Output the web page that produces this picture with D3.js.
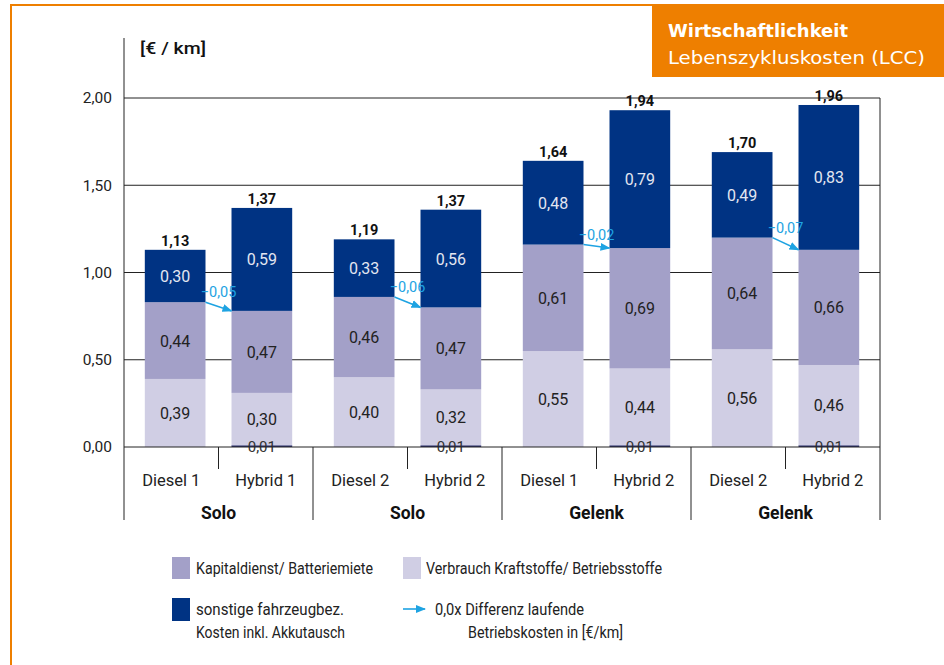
<!DOCTYPE html>
<html><head><meta charset="utf-8">
<script src="https://cdn.jsdelivr.net/npm/d3@7"></script>
<style>
html,body{margin:0;padding:0;background:#fff;}
svg{display:block;font-family:Roboto,"Open Sans",sans-serif;}
</style></head>
<body>
<svg id="c" width="944" height="665"></svg>
<script>
// ---- data ----
const barLabels = ["Diesel 1","Hybrid 1","Diesel 2","Hybrid 2","Diesel 1","Hybrid 2","Diesel 2","Hybrid 2"];
const groupLabels = ["Solo","Solo","Gelenk","Gelenk"];
const akku      = [0,0.01,0,0.01,0,0.01,0,0.01];
const verbrauch = [0.39,0.30,0.40,0.32,0.55,0.44,0.56,0.46];
const kapital   = [0.44,0.47,0.46,0.47,0.61,0.69,0.64,0.66];
const sonstige  = [0.30,0.59,0.33,0.56,0.48,0.79,0.49,0.83];
const totals    = [1.13,1.37,1.19,1.37,1.64,1.94,1.70,1.96];
const diffs     = [-0.05,-0.06,-0.02,-0.07];
const yTicks    = [0,0.5,1,1.5,2];

const fmt = v => d3.format(".2f")(v).replace(".", ",");
const C = {orange:"#ee7f00", navy:"#003383", kap:"#a3a0c8", verb:"#d0cee4", akku:"#2b2e6e", arrow:"#1ea3e2"};

const svg = d3.select("#c");
const fit = (sel,w) => sel.attr("textLength",w).attr("lengthAdjust","spacingAndGlyphs");

// frame
svg.append("line").attr("x1",11).attr("x2",652).attr("y1",5).attr("y2",5).attr("stroke",C.orange).attr("stroke-width",2);
svg.append("line").attr("x1",11).attr("x2",11).attr("y1",4).attr("y2",665).attr("stroke",C.orange).attr("stroke-width",2);
svg.append("rect").attr("x",652).attr("y",4).attr("width",292).attr("height",73).attr("fill",C.orange);
fit(svg.append("text").attr("x",668).attr("y",37).attr("fill","#fff").attr("font-family","'DejaVu Sans',sans-serif")
  .attr("font-size",17.5).attr("font-weight",700).text("Wirtschaftlichkeit"),180);
fit(svg.append("text").attr("x",668).attr("y",64).attr("fill","#fff").attr("font-family","'DejaVu Sans',sans-serif")
  .attr("font-size",18).text("Lebenszykluskosten (LCC)"),257);

// scales
const left = 124, right = 880, y0px = 447, y2px = 98;
const y = d3.scaleLinear().domain([0,2]).range([y0px,y2px]);
const gIdx = d3.range(groupLabels.length);
const x0 = d3.scaleBand().domain(gIdx).range([left,right]).padding(0);
const x1 = d3.scaleBand().domain([0,1]).range([0,x0.bandwidth()]).paddingInner(0.3).paddingOuter(0.24);
const bx = i => x0(Math.floor(i/2)) + x1(i%2);
const bw = x1.bandwidth();

// gridlines
svg.append("g").selectAll("line").data(yTicks.filter(t=>t>0)).join("line")
  .attr("x1",left).attr("x2",right).attr("y1",d=>y(d)).attr("y2",d=>y(d))
  .attr("stroke","#222").attr("stroke-width",1);

// y axis
const yAxis = d3.axisLeft(y).tickValues(yTicks).tickSize(0).tickPadding(12).tickFormat(fmt);
const ya = svg.append("g").attr("transform",`translate(${left},0)`).call(yAxis);
ya.select(".domain").remove();
ya.selectAll("text").attr("font-size",15.5).attr("fill","#222").attr("font-family","Roboto,sans-serif");
svg.append("line").attr("x1",left).attr("x2",left).attr("y1",38).attr("y2",520).attr("stroke","#222");
svg.append("line").attr("x1",right).attr("x2",right).attr("y1",y(2)).attr("y2",520).attr("stroke","#222");
fit(svg.append("text").attr("x",140).attr("y",54).attr("font-size",17).attr("font-weight",500).attr("fill","#111").text("[€ / km]"),66);

// stacked bars
const series = [
  {vals:akku, color:C.akku, txt:null},
  {vals:verbrauch, color:C.verb, txt:"#222"},
  {vals:kapital, color:C.kap, txt:"#222"},
  {vals:sonstige, color:C.navy, txt:"#e3e6f1"}
];
const bars = svg.append("g");
barLabels.forEach((_,i)=>{
  let base = 0;
  series.forEach(s=>{
    const v = s.vals[i];
    if (v>0){
      bars.append("rect").attr("x",bx(i)).attr("width",bw)
        .attr("y",y(base+v)).attr("height",y(base)-y(base+v)).attr("fill",s.color);
      if (s.txt) bars.append("text").attr("x",bx(i)+bw/2).attr("y",y(base+v/2)+6)
        .attr("text-anchor","middle").attr("font-size",16).attr("fill",s.txt).text(fmt(v));
    }
    base += v;
  });
  if (akku[i]>0) bars.append("text").attr("x",bx(i)+bw/2).attr("y",451.5).attr("text-anchor","middle")
      .attr("font-size",15).attr("fill","#333").text(fmt(akku[i]));
  bars.append("text").attr("x",bx(i)+bw/2).attr("y",y(base)-4).attr("text-anchor","middle")
    .attr("font-size",14.5).attr("font-weight",700).attr("fill","#111").text(fmt(totals[i]));
});

// baseline
svg.append("line").attr("x1",left).attr("x2",right).attr("y1",y0px).attr("y2",y0px).attr("stroke","#222");

// arrows
const defs = svg.append("defs");
defs.append("marker").attr("id","ah").attr("viewBox","0 0 10 10").attr("refX",9).attr("refY",5)
  .attr("markerWidth",10).attr("markerHeight",10).attr("markerUnits","userSpaceOnUse").attr("orient","auto")
  .append("path").attr("d","M0,1 L10,5 L0,9 Z").attr("fill",C.arrow);
diffs.forEach((d,g)=>{
  const di = g*2, hi = g*2+1;
  const dTop = akku[di]+verbrauch[di]+kapital[di];
  const hTop = akku[hi]+verbrauch[hi]+kapital[hi];
  const xs = bx(di)+bw, xe = bx(hi);
  svg.append("line").attr("x1",xs).attr("y1",y(dTop)).attr("x2",xe).attr("y2",y(hTop))
    .attr("stroke",C.arrow).attr("stroke-width",1.6).attr("marker-end","url(#ah)");
  svg.append("text").attr("x",(xs+xe)/2).attr("y",y(dTop)-5).attr("text-anchor","middle")
    .attr("font-size",14.5).attr("fill",C.arrow).text(fmt(d));
});

// category axis
const cat = svg.append("g");
barLabels.forEach((b,i)=>{
  cat.append("text").attr("x",x0(Math.floor(i/2))+x0.bandwidth()/4*(i%2?3:1)).attr("y",486)
    .attr("text-anchor","middle").attr("font-size",16.5).attr("fill","#222").text(b);
});
gIdx.forEach(g=>{
  cat.append("line").attr("x1",x0(g)+x0.bandwidth()/2).attr("x2",x0(g)+x0.bandwidth()/2)
    .attr("y1",y0px).attr("y2",469).attr("stroke","#222");
  if (g>0) cat.append("line").attr("x1",x0(g)).attr("x2",x0(g)).attr("y1",y0px).attr("y2",520).attr("stroke","#222");
  cat.append("text").attr("x",x0(g)+x0.bandwidth()/2).attr("y",519).attr("text-anchor","middle")
    .attr("font-size",17.5).attr("font-weight",700).attr("fill","#111").text(groupLabels[g]);
});

// legend
const lg = svg.append("g").attr("font-size",17).attr("fill","#222");
const fitText = (x,yy,t,w) => fit(lg.append("text").attr("x",x).attr("y",yy).text(t),w);
lg.append("rect").attr("x",172).attr("y",557).attr("width",18).attr("height",22).attr("fill",C.kap);
fitText(196,574,"Kapitaldienst/ Batteriemiete",177);
lg.append("rect").attr("x",403).attr("y",557).attr("width",18).attr("height",22).attr("fill",C.verb);
fitText(426,574,"Verbrauch Kraftstoffe/ Betriebsstoffe",236);
lg.append("rect").attr("x",172).attr("y",598).attr("width",18).attr("height",23).attr("fill",C.navy);
fitText(196,615,"sonstige fahrzeugbez.",148);
fitText(196,638,"Kosten inkl. Akkutausch",149);
lg.append("line").attr("x1",403).attr("x2",425).attr("y1",609).attr("y2",609).attr("stroke",C.arrow).attr("stroke-width",1.6).attr("marker-end","url(#ah)");
fitText(435,615,"0,0x Differenz laufende",149);
fitText(468,638,"Betriebskosten in [€/km]",155);
</script>
</body></html>
